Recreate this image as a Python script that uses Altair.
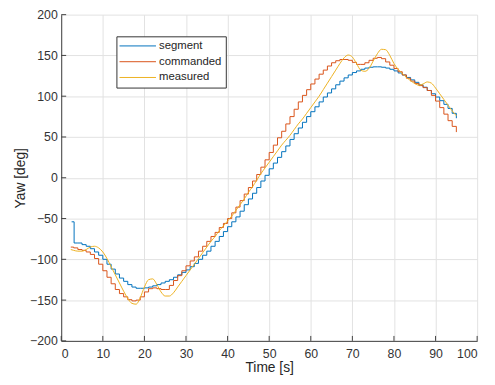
import altair as alt
import pandas as pd

SERIES = ["segment", "commanded", "measured"]
COLORS = ["#0072BD", "#D95319", "#EDB120"]

X_TICKS = [0, 10, 20, 30, 40, 50, 60, 70, 80, 90, 100]
Y_TICKS = [-200, -150, -100, -50, 0, 50, 100, 150, 200]

# segment (stepped)
SEG_T = [2.5, 3.1] + list(range(4, 96))
SEG_Y = [-54, -80,
         -80, -82, -84, -87, -91, -95, -100, -106, -112, -118, -123, -127, -131, -134,
         -135.5, -135.5, -135, -134, -132.5, -131, -129, -127, -125, -122, -119, -116,
         -113, -109, -105, -100, -95, -90, -84, -78, -72, -66, -60, -54, -48, -41,
         -33, -26, -19, -12, -4, 3, 11, 18, 25, 32, 39, 47, 54, 61, 68, 75,
         81, 87, 93, 99, 104, 109, 114, 118.5, 122.5, 126, 129, 131, 133, 134.5, 135.5, 136,
         136, 135.5, 134.5, 133, 131, 128.5, 126, 123, 120, 117, 114, 111, 107, 103,
         99, 94.5, 90, 85, 79, 73]

# commanded (stepped)
CMD_T = [2.3] + list(range(3, 96))
CMD_Y = [-85,
         -86, -88, -89, -91, -94, -99, -106, -114, -122, -130, -137, -142, -146, -149.5,
         -151, -150, -146, -140, -136, -135, -136, -137, -137, -132, -126, -120, -114,
         -108, -102, -97, -90, -84, -78, -72, -67, -61, -56, -50, -43, -36, -28, -20,
         -12, -4, 4, 13, 22, 31, 40, 49, 57, 66, 75, 84, 93, 101, 108, 115, 121, 127,
         132, 137, 141, 143.5, 145, 145, 144, 141.5, 139, 139, 141, 144, 146.5, 147.5,
         146, 142, 138, 134, 130, 126, 122, 118.5, 115.5, 113, 110.5, 107, 101, 94,
         86, 78, 70, 63, 56]

# measured (smooth)
MEAS_T = [2.3] + list(range(3, 96))
MEAS_Y = [-88,
          -89, -90, -90, -88, -85, -84, -86, -91, -99, -109, -119, -129, -139, -148,
          -154, -155, -147, -134, -125, -124, -131, -140, -145, -145, -141, -134, -127,
          -120, -113, -106, -99, -92, -85, -78, -72, -65, -59, -53, -47, -40, -33, -26,
          -18, -11, -3, 5, 12, 19, 26, 33, 40, 46, 52, 59, 66, 72, 79, 86, 93, 100,
          108, 116, 124, 132, 140, 147, 150.5, 148, 140, 132, 130.5, 134, 143, 152,
          157.5, 157, 150, 140, 133, 128, 123, 119, 115.5, 113.5, 115, 117.5, 116, 110,
          103, 96, 89, 82, 76]

rows = []
for name, ts, ys in [("segment", SEG_T, SEG_Y), ("commanded", CMD_T, CMD_Y), ("measured", MEAS_T, MEAS_Y)]:
    for t, y in zip(ts, ys):
        rows.append({"series": name, "t": t, "y": y})
df = pd.DataFrame(rows)

FONT = "Liberation Sans"
AXCOL = "#404040"

x_enc = alt.X("t:Q", title="Time [s]",
              scale=alt.Scale(domain=[0, 100], nice=False, zero=False),
              axis=alt.Axis(values=X_TICKS, titleY=27, titleBaseline="middle"))
y_enc = alt.Y("y:Q", title="Yaw [deg]",
              scale=alt.Scale(domain=[-200, 200], nice=False, zero=False),
              axis=alt.Axis(values=Y_TICKS, titleX=-41, titleBaseline="middle", titleAngle=270))
color_enc = alt.Color("series:N", sort=SERIES,
                      scale=alt.Scale(domain=SERIES, range=COLORS),
                      legend=alt.Legend(orient="none", legendX=56, legendY=22, title=None,
                                        symbolType="M-4,0H4", symbolSize=85.5,
                                        symbolOffset=11.9,
                                        symbolStrokeWidth=1, labelFontSize=11.5,
                                        labelOffset=15.85, padding=4, rowPadding=3,
                                        strokeColor="#333333", fillColor="white",
                                        labelColor="#262626", labelFont=FONT))

base = alt.Chart(df)
steps = base.transform_filter(
    alt.FieldOneOfPredicate(field="series", oneOf=["segment", "commanded"])
).mark_line(interpolate="step-after", strokeWidth=1).encode(
    x=x_enc, y=y_enc, color=color_enc)
smooth = base.transform_filter(
    alt.FieldEqualPredicate(field="series", equal="measured")
).mark_line(interpolate="monotone", strokeWidth=1).encode(
    x=x_enc, y=y_enc, color=color_enc)

xt = alt.Chart(pd.DataFrame({"t": X_TICKS})).mark_rule(color=AXCOL, strokeWidth=1).encode(
    x=x_enc, y=alt.value(331), y2=alt.value(326))
yt = alt.Chart(pd.DataFrame({"y": Y_TICKS})).mark_rule(color=AXCOL, strokeWidth=1).encode(
    y=y_enc, x=alt.value(0), x2=alt.value(5))

chart = alt.layer(steps, smooth, xt, yt).properties(
    width=422, height=331,
    autosize=alt.AutoSizeParams(type="none"),
    padding={"left": 54, "top": 4, "right": 10, "bottom": 40},
).configure_view(stroke=None).configure_axis(
    grid=True, gridColor="#e2e2e2", gridWidth=1,
    domainColor=AXCOL, domainWidth=1, ticks=False,
    labelFont=FONT, labelFontSize=12.5, labelColor="#333333",
    titleFont=FONT, titleFontSize=14, titleFontWeight="normal", titleColor="#262626",
).configure_axisX(labelPadding=7).configure_axisY(labelPadding=4)

chart.save("out.html", embed_options={"renderer": "svg", "actions": False})
